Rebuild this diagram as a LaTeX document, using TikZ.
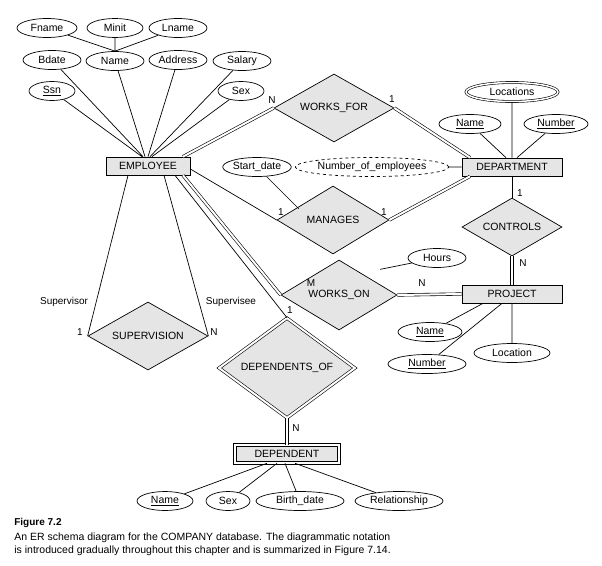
\documentclass[tikz,border=0pt]{standalone}
\usepackage{fontspec}
\setmainfont{Liberation Sans}
\usetikzlibrary{shapes.geometric}
\begin{document}
\begin{tikzpicture}[x=1pt,y=-1pt,font=\fontsize{10.5}{12}\selectfont,line width=0.7pt,
 att/.style={ellipse,draw,fill=white,inner sep=0pt,minimum height=19pt,minimum width=#1},
 ent/.style={rectangle,draw,fill=black!10,minimum height=18pt,minimum width=#1,inner sep=0pt},
 rel/.style n args={2}{diamond,draw,fill=black!10,inner sep=0pt,minimum width=#1,minimum height=#2,aspect=1.7},
 dbl/.style={double,double distance=2pt,line width=0.6pt},
 lbl/.style={font=\fontsize{10}{11}\selectfont,inner sep=1pt}]
\useasboundingbox (0,0) rectangle (602,565);
% entities
\node[ent=84] (emp) at (148,166) {EMPLOYEE};
\node[ent=100] (dept) at (512,167) {DEPARTMENT};
\node[ent=100] (proj) at (512,294) {PROJECT};
\node[ent=104,double,double distance=2pt,line width=0.6pt] (dep) at (287,454) {DEPENDENT};
% relationships
\node[rel={120}{68}] (wf) at (334,108) {WORKS\_FOR};
\node[rel={112}{68}] (man) at (333,220) {MANAGES};
\node[rel={100}{58}] (ctl) at (512,227) {CONTROLS};
\node[rel={116}{70}] (wo) at (339,295) {WORKS\_ON};
\node[rel={120}{68}] (sup) at (148,336) {SUPERVISION};
\node[rel={136}{100},double,double distance=2pt,line width=0.6pt] (dof) at (287,368) {DEPENDENTS\_OF};
% employee attributes
\node[att=60] (fn) at (47,28) {Fname};
\node[att=56] (mi) at (115,28) {Minit};
\node[att=58] (ln) at (178,28) {Lname};
\node[att=58] (bd) at (52,60) {Bdate};
\node[att=58] (nm) at (115,61) {Name};
\node[att=58] (ad) at (178,60) {Address};
\node[att=58] (sa) at (242,61) {Salary};
\node[att=46] (ssn) at (52,91) {\underline{Ssn}};
\node[att=46] (sx) at (241,91) {Sex};
\draw (fn) -- (nm.north) (mi) -- (nm) (ln) -- (nm.north);
\draw (ssn) -- ([xshift=-6pt]emp.north) (bd) -- ([xshift=-5pt]emp.north) (nm) -- ([xshift=-3pt]emp.north)
      (ad) -- ([xshift=0pt]emp.north) (sa) -- ([xshift=2pt]emp.north) (sx) -- ([xshift=4pt]emp.north);
% department attributes
\node[att=92,double,double distance=1.5pt,line width=0.6pt] (loc) at (512,92) {Locations};
\node[att=62] (dn) at (470,124) {\underline{Name}};
\node[att=64] (dnu) at (556,124) {\underline{Number}};
\node[att=134,dashed] (noe) at (372,167) {Number\_of\_employees};
\draw (loc) -- (dept.north) (dn) -- ([xshift=-6pt]dept.north) (dnu) -- ([xshift=5pt]dept.north) (noe) -- (dept.west);
% manages
\node[att=66] (sd) at (257,167) {Start\_date};
\draw (sd) -- ([xshift=-6pt,yshift=-6pt]man.north west);
% works_on / project
\node[att=58] (hr) at (437,258) {Hours};
\node[att=64] (pn) at (430,332) {\underline{Name}};
\node[att=78] (pnu) at (427,364) {\underline{Number}};
\node[att=76] (pl) at (512,353) {Location};
\draw (hr) -- ([xshift=12pt,yshift=8pt]wo.north east);
\draw (pn) -- ([xshift=-29pt]proj.south) (pnu) -- ([xshift=-10pt]proj.south) (pl) -- (proj.south);
% dependent
\node[att=56] (dnm) at (165,501) {\underline{Name}};
\node[att=44] (dsx) at (228,501) {Sex};
\node[att=88] (dbd) at (300,501) {Birth\_date};
\node[att=88] (drl) at (399,501) {Relationship};
\draw (dnm) -- ([xshift=-20pt]dep.south) (dsx) -- ([xshift=-10pt]dep.south) (dbd) -- ([xshift=-2pt]dep.south) (drl) -- ([xshift=8pt]dep.south);
% relationship links
\draw[dbl] ([xshift=35pt]emp.north) -- (wf.west);
\draw[dbl] (wf.east) -- ([xshift=-42pt]dept.north);
\draw ([yshift=-3pt]emp.east) -- (man.west);
\draw[dbl] (man.east) -- ([xshift=-42pt]dept.south);
\draw (dept.south) -- (ctl.north);
\draw[dbl] (ctl.south) -- (proj.north);
\draw[dbl] ([xshift=35pt]emp.south) -- (wo.west);
\draw[dbl] (wo.east) -- (proj.west);
\draw ([xshift=27pt]emp.south) -- (dof.north);
\draw[dbl] (dof.south) -- (dep.north);
\draw ([xshift=-20pt]emp.south) -- (sup.west);
\draw ([xshift=16pt]emp.south) -- (sup.east);
% cardinality labels
\node[lbl] (l1) at (272,100) {N};
\node[lbl] (l2) at (392,99) {1};
\node[lbl] (l3) at (281,212) {1};
\node[lbl] (l4) at (384,212) {1};
\node[lbl] (l5) at (520,193) {1};
\node[lbl] (l6) at (523,263) {N};
\node[lbl] (l7) at (311,283) {M};
\node[lbl] (l8) at (422,283) {N};
\node[lbl] (l9) at (64,302) {Supervisor};
\node[lbl] (l10) at (80,332) {1};
\node[lbl] (l11) at (231,302) {Supervisee};
\node[lbl] (l12) at (214,332) {N};
\node[lbl] (l13) at (290,310) {1};
\node[lbl] (l14) at (296,428) {N};
% caption
\node[anchor=west,inner sep=0pt,font=\fontsize{10}{12}\selectfont\bfseries] (cap) at (14,523) {Figure 7.2};
\node[anchor=west,inner sep=0pt,font=\fontsize{10.5}{12}\selectfont] (c1) at (14,538) {An ER schema diagram for the COMPANY database. The diagrammatic notation};
\node[anchor=west,inner sep=0pt,font=\fontsize{10.5}{12}\selectfont] (c2) at (14,551) {is introduced gradually throughout this chapter and is summarized in Figure 7.14.};
\end{tikzpicture}
\end{document}
